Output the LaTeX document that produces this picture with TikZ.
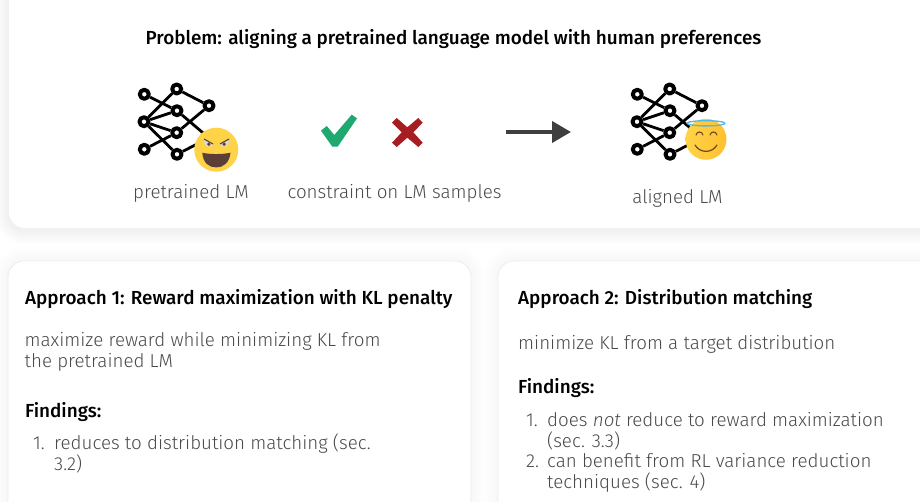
\documentclass[tikz,border=0pt]{standalone}
\usepackage{fontspec}
\setmainfont{Fira Sans Light}[BoldFont={Fira Sans Medium},ItalicFont={Fira Sans Light Italic}]
\usetikzlibrary{arrows.meta}
\definecolor{bodygray}{HTML}{4A4A4A}
\definecolor{cardline}{HTML}{EDEDF0}
\definecolor{shadowblue}{HTML}{C9D0DC}
\definecolor{devilface}{HTML}{FFD348}
\definecolor{devilmouth}{HTML}{5B3F36}
\definecolor{angelface}{HTML}{FFC02E}
\definecolor{angelline}{HTML}{6B4A1E}
\definecolor{checkgreen}{HTML}{1FA86F}
\definecolor{crossred}{HTML}{A61E22}
\definecolor{arrowgray}{HTML}{3F3F3F}
\definecolor{halo}{HTML}{4FB8E8}
\tikzset{
  neuron/.style={circle,draw=black,fill=white,line width=4,minimum size=9,inner sep=0},
  edge/.style={line width=2.8,black},
  heading/.style={anchor=base west,inner sep=0,font=\fontsize{18.9}{21}\selectfont\bfseries,text=black},
  bodytext/.style={anchor=base west,inner sep=0,align=left,font=\fontsize{18.75}{21}\selectfont,text=bodygray},
  card/.style={draw=cardline,fill=white,line width=0.8,rounded corners=16},
}
\begin{document}
\begin{tikzpicture}[x=1pt,y=-1pt,line join=round,>=Stealth]
\useasboundingbox (0,0) rectangle (920,502);
\fill[white] (0,0) rectangle (920,502);
% soft shadow round the cards
\foreach \w in {4,8,...,28}{
  \draw[shadowblue,opacity=0.035,line width=\w,rounded corners=16] (9,-30) rectangle (960,230);
  \draw[shadowblue,opacity=0.012,line width=\w,rounded corners=16] (8,261) rectangle (471,540);
  \draw[shadowblue,opacity=0.012,line width=\w,rounded corners=16] (498,261) rectangle (960,540);
}
\draw[card,draw=none] (9,-30) rectangle (960,228);
\draw[card] (8,261) rectangle (471,540);
\draw[card] (498,261) rectangle (960,540);

\node[heading,anchor=base] (title) at (453.5,45) {Problem: aligning a pretrained language model with human preferences};

% the two networks
\foreach \p/\dx in {u/0,v/493}{
  \begin{scope}[xshift=\dx]
    \coordinate (\p c2) at (209,138);
    \path (144.3,94.3) node[neuron] (\p a1) {} (144,121.7) node[neuron] (\p a2) {} (144.3,149.3) node[neuron] (\p a3) {};
    \path (176.7,89) node[neuron] (\p b1) {} (177,110.7) node[neuron] (\p b2) {} (176.7,132.7) node[neuron] (\p b3) {} (177,154.3) node[neuron] (\p b4) {};
    \node[neuron] (\p c1) at (209,105.7) {};
    \draw[edge] (\p a1)--(\p b2) (\p a2)--(\p b1) (\p a2)--(\p b2) (\p a2)--(\p b3) (\p a2)--(\p b4)
      (\p a3)--(\p b3) (\p b1)--(\p c1) (\p b3)--(\p c1) (\p b2)--(\p c2) (\p b4)--(\p c2);
  \end{scope}
}

% devil face
\node[circle,fill=devilface,minimum size=44,inner sep=0] (devil) at (216.3,149.7) {};
\fill[devilmouth] (202.3,152.7) .. controls (210,154.5) and (222,154.5) .. (230.5,152.7) .. controls (229.5,163) and (223,167.5) .. (216.3,167.5) .. controls (209,167.5) and (203,163) .. (202.3,152.7) -- cycle;
\fill[white!85!black] (204,140) -- (213,144.5) .. controls (212,146.5) and (209,147) .. (207,146.5) .. controls (205,145.5) and (204,143) .. (204,140) -- cycle;
\fill[white!85!black] (229,140) -- (220,144.5) .. controls (221,146.5) and (224,147) .. (226,146.5) .. controls (228,145.5) and (229,143) .. (229,140) -- cycle;
\fill[devilmouth] (208.8,144.2) circle (1.8) (224.2,144.2) circle (1.8);
\draw[devilmouth,line width=1.1] (204,139) -- (213,144) (229,139) -- (220,144);

% angel face
\node[circle,left color=devilface,right color=angelface,minimum size=41,inner sep=0] (angel) at (706,139.3) {};
\draw[angelline,line width=1.1,line cap=round] (696,135) .. controls (697,131) and (702,131) .. (703,135);
\draw[angelline,line width=1.1,line cap=round] (710,135) .. controls (711,131) and (716,131) .. (717,135);
\draw[angelline,line width=1.2,line cap=round] (695,145) .. controls (700,153.5) and (712,153.5) .. (717,145);
\draw[halo,line width=1.3] (706,123.3) ellipse (19 and 2.6);

% constraint marks and arrow
\fill[checkgreen] (321,130.7)--(326.7,126)--(334.3,135)--(351.7,114.7)--(357,118.3)--(337.7,146.7)--(332.3,146.7)--cycle;
\fill[crossred] (392,122.7)--(396.7,118)--(407.3,127.3)--(418.3,118)--(422.7,122.7)--(413.3,132.3)--(422.7,142.7)--(418.3,147)--(407.3,137.7)--(396.7,147)--(392,142.7)--(401.7,132.3)--cycle;
\coordinate (arrstart) at (506,132);
\coordinate (arrend) at (571,132);
\draw[arrowgray,line width=4,-{Triangle[length=19,width=21]}] (arrstart)--(arrend);

\node[bodytext,anchor=base] (pretrained) at (191,199) {pretrained LM};
\node[bodytext,anchor=base] (constraint) at (394.5,199) {constraint on LM samples};
\node[bodytext,anchor=base] (aligned) at (677.5,204) {aligned LM};

% left card
\node[heading] (apone) at (25,305) {Approach 1: Reward maximization with KL penalty};
\node[bodytext] (apone text) at (24.5,367) {maximize reward while minimizing KL from\\the pretrained LM};
\node[heading] (apone find) at (25,417) {Findings:};
\node[bodytext] (aponeitem num) at (33,449) {1.};
\node[bodytext] (aponeitem) at (54,470) {reduces to distribution matching (sec.\\3.2)};

% right card
\node[heading] (aptwo) at (518,305) {Approach 2: Distribution matching};
\node[bodytext] (aptwo text) at (518,349) {minimize KL from a target distribution};
\node[heading] (aptwo find) at (518,393) {Findings:};
\node[bodytext] (aptwoitem num) at (526,426) {1.};
\node[bodytext] (aptwoitem) at (547,447) {does \textit{not} reduce to reward maximization\\(sec. 3.3)};
\node[bodytext] (aptwoitem num b) at (526,467) {2.};
\node[bodytext] (aptwoitem b) at (547,488) {can benefit from RL variance reduction\\techniques (sec. 4)};
\end{tikzpicture}
\end{document}
